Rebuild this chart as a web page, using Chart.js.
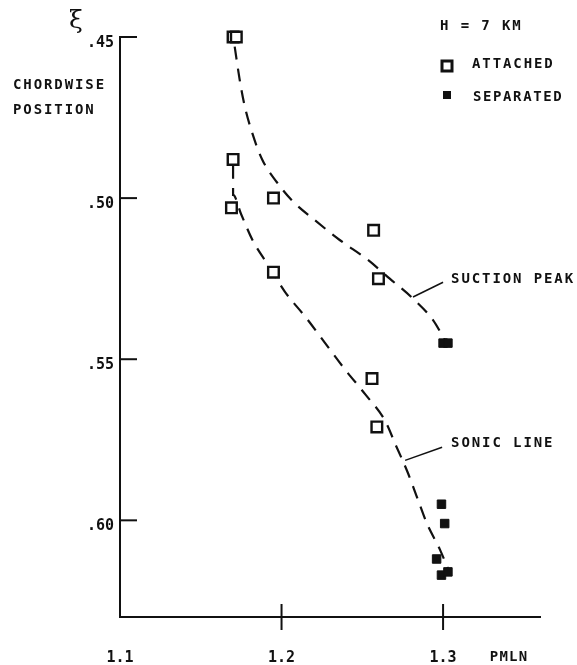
<!DOCTYPE html>
<html>
<head>
<meta charset="utf-8">
<script src="https://cdn.jsdelivr.net/npm/chart.js@4.4.0/dist/chart.umd.min.js"></script>
<style>
  body { margin: 0; background: #fff; }
  #wrap { width: 577px; height: 665px; position: relative; }
</style>
</head>
<body>
<div id="wrap"><canvas id="chordwise-chart"></canvas></div>
<script>
// Axis ticks
var xTickValues = [1.1, 1.2, 1.3];
var yTickValues = [0.45, 0.50, 0.55, 0.60];

// Attached flow points (open squares)
var attachedX = [1.170, 1.172, 1.170, 1.169, 1.195, 1.195, 1.257, 1.260, 1.256, 1.259];
var attachedY = [0.450, 0.450, 0.488, 0.503, 0.500, 0.523, 0.510, 0.525, 0.556, 0.571];

// Separated flow points (filled squares)
var separatedX = [1.300, 1.303, 1.299, 1.301, 1.296, 1.299, 1.303];
var separatedY = [0.545, 0.545, 0.595, 0.601, 0.612, 0.617, 0.616];

// Dashed fairing curves
var suctionX = [1.171, 1.174, 1.177, 1.182, 1.188, 1.197, 1.207, 1.221, 1.236, 1.253, 1.267, 1.281, 1.294, 1.301];
var suctionY = [0.453, 0.463, 0.471, 0.480, 0.488, 0.495, 0.501, 0.507, 0.513, 0.519, 0.525, 0.531, 0.538, 0.544];
var sonicX = [1.170, 1.170, 1.175, 1.182, 1.192, 1.202, 1.215, 1.227, 1.239, 1.252, 1.264, 1.271, 1.278, 1.284, 1.290, 1.298, 1.303];
var sonicY = [0.490, 0.499, 0.505, 0.513, 0.521, 0.529, 0.537, 0.545, 0.553, 0.561, 0.569, 0.577, 0.585, 0.593, 0.601, 0.609, 0.615];

// Leader lines for the curve labels
var suctionLeaderX = [1.2814, 1.3000];
var suctionLeaderY = [0.5307, 0.5261];
var sonicLeaderX = [1.2765, 1.2994];
var sonicLeaderY = [0.5814, 0.5773];

function toPoints(xs, ys) {
    return xs.map(function (v, i) { return { x: v, y: ys[i] }; });
}

var MONO = '"DejaVu Sans Mono", "Liberation Mono", monospace';

function drawText(ctx, text, x, y, size, spacing, align) {
    ctx.save();
    ctx.font = 'bold ' + size + 'px ' + MONO;
    ctx.fillStyle = '#111';
    ctx.textBaseline = 'middle';
    ctx.textAlign = align || 'left';
    ctx.letterSpacing = (spacing || 0) + 'px';
    ctx.fillText(text, x, y);
    ctx.restore();
}

var decorPlugin = {
    id: 'decor',
    afterDraw: function (chart) {
        var ctx = chart.ctx;
        var xs = chart.scales.x, ys = chart.scales.y;
        var area = chart.chartArea;
        ctx.save();
        ctx.strokeStyle = '#111';
        ctx.lineWidth = 2;
        // inward ticks on the y axis
        yTickValues.forEach(function (v) {
            var py = ys.getPixelForValue(v);
            ctx.beginPath();
            ctx.moveTo(area.left, py);
            ctx.lineTo(area.left + 17, py);
            ctx.stroke();
        });
        // crossing ticks on the x axis
        xTickValues.slice(1).forEach(function (v) {
            var px = xs.getPixelForValue(v);
            ctx.beginPath();
            ctx.moveTo(px, area.bottom - 13);
            ctx.lineTo(px, area.bottom + 13);
            ctx.stroke();
        });
        ctx.restore();

        // axis titles
        ctx.save();
        ctx.font = '25px "DejaVu Serif", serif';
        ctx.fillStyle = '#111';
        ctx.textBaseline = 'alphabetic';
        ctx.fillText('\u03be', 69, 28);
        ctx.restore();
        drawText(ctx, 'CHORDWISE', 13, 85, 14, 1.9);
        drawText(ctx, 'POSITION', 13, 110, 14, 1.9);
        drawText(ctx, 'PMLN', xs.getPixelForValue(1.3) + 66, area.bottom + 40, 14, 1.2, 'center');

        // legend
        drawText(ctx, 'H = 7 KM', 440, 26, 14, 1.9);
        ctx.save();
        ctx.strokeStyle = '#111';
        ctx.lineWidth = 3;
        ctx.strokeRect(442, 61, 10, 10);
        ctx.fillStyle = '#111';
        ctx.fillRect(443, 91, 8, 8);
        ctx.restore();
        drawText(ctx, 'ATTACHED', 472, 64, 14, 1.9);
        drawText(ctx, 'SEPARATED', 473, 97, 14, 1.6);

        // curve labels at the end of the leader lines
        var sx = xs.getPixelForValue(suctionLeaderX[1]) + 8;
        var sy = ys.getPixelForValue(suctionLeaderY[1]) - 3;
        drawText(ctx, 'SUCTION PEAK', sx, sy, 14, 1.9);
        var nx = xs.getPixelForValue(sonicLeaderX[1]) + 9;
        var ny = ys.getPixelForValue(sonicLeaderY[1]) - 4;
        drawText(ctx, 'SONIC LINE', nx, ny, 14, 1.9);
    }
};

var ctx = document.getElementById('chordwise-chart').getContext('2d');
var chordChart = new Chart(ctx, {
    type: 'scatter',
    data: {
        datasets: [{
            label: 'ATTACHED',
            data: toPoints(attachedX, attachedY),
            pointStyle: 'rect',
            pointRadius: 7.5,
            pointBorderWidth: 2.4,
            pointBackgroundColor: '#fff',
            pointBorderColor: '#111',
            clip: false
        }, {
            label: 'SEPARATED',
            data: toPoints(separatedX, separatedY),
            pointStyle: 'rect',
            pointRadius: 6,
            pointBorderWidth: 1,
            pointBackgroundColor: '#111',
            pointBorderColor: '#111',
            clip: false
        }, {
            label: 'suction leader',
            data: toPoints(suctionLeaderX, suctionLeaderY),
            showLine: true,
            borderColor: '#111',
            borderWidth: 1.5,
            pointRadius: 0,
            clip: false
        }, {
            label: 'sonic leader',
            data: toPoints(sonicLeaderX, sonicLeaderY),
            showLine: true,
            borderColor: '#111',
            borderWidth: 1.5,
            pointRadius: 0,
            clip: false
        }, {
            label: 'SUCTION PEAK',
            data: toPoints(suctionX, suctionY),
            showLine: true,
            borderColor: '#111',
            borderWidth: 2.2,
            borderDash: [13, 9],
            cubicInterpolationMode: 'monotone',
            pointRadius: 0,
            clip: false
        }, {
            label: 'SONIC LINE',
            data: toPoints(sonicX, sonicY),
            showLine: true,
            borderColor: '#111',
            borderWidth: 2.2,
            borderDash: [13, 9],
            cubicInterpolationMode: 'monotone',
            pointRadius: 0,
            clip: false
        }]
    },
    options: {
        responsive: true,
        maintainAspectRatio: false,
        animation: false,
        layout: { padding: { top: 37, right: 37, left: 0, bottom: 0 } },
        plugins: {
            legend: { display: false },
            tooltip: { enabled: false }
        },
        scales: {
            x: {
                type: 'linear',
                min: 1.1,
                max: 1.36,
                afterFit: function (s) { s.height = 48; },
                afterBuildTicks: function (s) {
                    s.ticks = xTickValues.map(function (v) { return { value: v }; });
                },
                grid: { display: true, drawOnChartArea: false, drawTicks: false },
                border: { display: true, color: '#111', width: 2 },
                ticks: {
                    padding: 32,
                    color: '#111',
                    font: { family: MONO, size: 15, weight: 'bold' },
                    callback: function (v) { return v.toFixed(1); }
                }
            },
            y: {
                type: 'linear',
                reverse: true,
                min: 0.45,
                max: 0.63,
                afterFit: function (s) { s.width = 120; },
                afterBuildTicks: function (s) {
                    s.ticks = yTickValues.map(function (v) { return { value: v }; });
                },
                grid: { display: true, drawOnChartArea: false, drawTicks: false },
                border: { display: true, color: '#111', width: 2 },
                ticks: {
                    padding: 6,
                    labelOffset: 6,
                    color: '#111',
                    font: { family: MONO, size: 15, weight: 'bold' },
                    callback: function (v) { return v.toFixed(2).replace(/^0/, ''); }
                }
            }
        }
    },
    plugins: [decorPlugin]
});
</script>
</body>
</html>
